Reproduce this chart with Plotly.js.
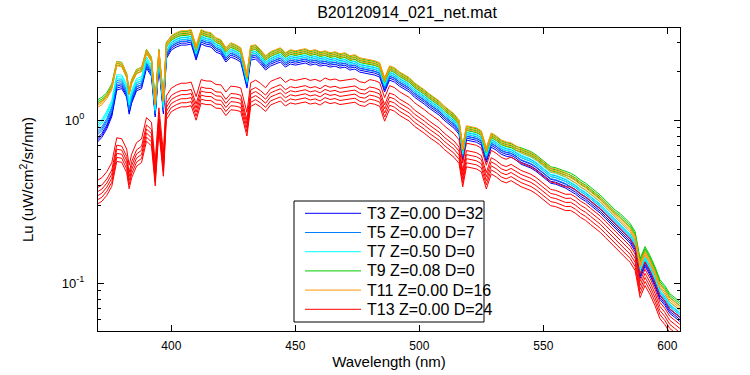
<!DOCTYPE html>
<html><head><meta charset="utf-8">
<script src="https://cdn.plot.ly/plotly-3.0.1.min.js"></script>
<style>html,body{margin:0;padding:0;background:#fff}#chart{width:750px;height:375px}</style>
</head><body><div id="chart"></div>
<script>
// Wavelength grid (nm)
const wavelength = [370,372,374,376,378,380,382,383,384,386,388,390,392,393.5,395,396.8,398,
400,402,404,406,408,410,412,414,416,418,420,422,424,426,428,430.5,
432,434,436,438,440,442,444,446,448,450,452,454,456,458,460,462,464,466,468,470,472,474,476,478,480,482,484,486,488,490,492,494,496,498,500,502,504,506,508,510,512,514,516,
517.5,519,521,523,525,527,529,531,533,535,537,539,541,543,545,547,549,551,553,555,557,559,561,563,565,567,569,571,573,575,577,579,581,583,585,587,589,591,593,595,597,599,601,603,605];

// log10 of Lu (uW/cm2/sr/nm), one array per station
const logLuT3 = [-0.125,-0.092,-0.040,0.035,0.198,0.207,0.154,0.050,0.117,0.194,0.206,0.332,0.283,0.033,0.347,0.052,0.390,
0.444,0.462,0.474,0.474,0.481,0.382,0.481,0.468,0.462,0.431,0.419,0.370,0.401,0.388,0.370,0.210,
0.382,0.388,0.358,0.321,0.345,0.358,0.370,0.339,0.358,0.351,0.358,0.364,0.351,0.358,0.345,0.351,0.339,0.345,0.333,0.339,0.321,0.327,0.308,0.302,0.296,0.290,0.278,0.186,0.259,0.247,0.222,0.204,0.186,0.155,0.136,0.112,0.087,0.063,0.044,0.013,-0.011,-0.036,-0.073,
-0.232,-0.109,-0.116,-0.122,-0.140,-0.245,-0.153,-0.171,-0.196,-0.208,-0.214,-0.232,
-0.257,-0.269,-0.281,-0.300,-0.324,-0.349,-0.374,-0.380,-0.392,-0.404,-0.423,-0.441,-0.466,-0.484,-0.509,-0.533,-0.558,-0.589,-0.620,-0.650,-0.681,-0.712,-0.742,-0.792,-0.958,-0.884,-0.939,-1.007,-1.087,-1.124,-1.173,-1.197,-1.222];

const logLuT5 = [-0.080,-0.052,0.000,0.070,0.233,0.237,0.179,0.075,0.142,0.219,0.231,0.352,0.303,0.053,0.367,0.072,0.410,
0.466,0.484,0.496,0.496,0.503,0.404,0.503,0.490,0.484,0.453,0.441,0.392,0.423,0.410,0.392,0.232,
0.404,0.410,0.380,0.343,0.367,0.380,0.392,0.361,0.380,0.373,0.380,0.386,0.373,0.380,0.367,0.373,0.361,0.367,0.355,0.361,0.343,0.349,0.330,0.324,0.318,0.312,0.300,0.208,0.281,0.269,0.244,0.226,0.208,0.177,0.158,0.134,0.109,0.085,0.066,0.035,0.011,-0.014,-0.051,
-0.210,-0.087,-0.094,-0.100,-0.118,-0.223,-0.131,-0.149,-0.174,-0.186,-0.192,-0.210,-0.229,-0.241,-0.253,-0.272,-0.296,-0.321,-0.346,-0.352,-0.364,-0.376,-0.395,-0.413,-0.438,-0.456,-0.481,-0.505,-0.530,-0.561,-0.592,-0.622,-0.653,-0.684,-0.714,-0.764,-0.930,-0.856,-0.911,-0.979,-1.059,-1.096,-1.145,-1.169,-1.194];

const logLuT7 = [-0.035,-0.007,0.045,0.110,0.268,0.267,0.209,0.105,0.172,0.244,0.256,0.377,0.328,0.073,0.387,0.092,0.430,
0.481,0.499,0.511,0.511,0.518,0.419,0.518,0.505,0.499,0.468,0.456,0.407,0.438,0.425,0.407,0.247,
0.419,0.425,0.395,0.358,0.382,0.395,0.407,0.376,0.395,0.388,0.395,0.401,0.388,0.395,0.382,0.388,0.376,0.382,0.370,0.376,0.358,0.364,0.345,0.339,0.333,0.327,0.315,0.223,0.296,0.284,0.259,0.241,0.223,0.192,0.173,0.149,0.124,0.100,0.081,0.050,0.026,0.001,-0.036,
-0.195,-0.072,-0.079,-0.085,-0.103,-0.208,-0.116,-0.134,-0.159,-0.171,-0.177,-0.195,-0.214,-0.226,-0.238,-0.257,-0.281,-0.306,-0.331,-0.337,-0.349,-0.361,-0.380,-0.398,-0.423,-0.441,-0.466,-0.490,-0.515,-0.546,-0.577,-0.607,-0.638,-0.669,-0.699,-0.749,-0.915,-0.841,-0.896,-0.964,-1.044,-1.081,-1.130,-1.154,-1.179];

const logLuT9 = [0.120,0.138,0.165,0.220,0.358,0.352,0.284,0.180,0.247,0.309,0.321,0.432,0.383,0.118,0.432,0.137,0.475,
0.511,0.529,0.541,0.541,0.548,0.449,0.548,0.535,0.529,0.498,0.486,0.437,0.468,0.455,0.437,0.277,
0.449,0.455,0.425,0.388,0.412,0.425,0.437,0.406,0.425,0.418,0.425,0.431,0.418,0.425,0.412,0.418,0.406,0.412,0.400,0.406,0.388,0.394,0.375,0.369,0.363,0.357,0.345,0.253,0.326,0.314,0.289,0.271,0.253,0.222,0.203,0.179,0.154,0.130,0.111,0.080,0.056,0.031,-0.006,
-0.165,-0.042,-0.049,-0.055,-0.073,-0.178,-0.086,-0.104,-0.129,-0.141,-0.147,-0.165,
-0.172,-0.184,-0.196,-0.215,-0.239,-0.264,-0.289,-0.295,-0.307,-0.319,
-0.328,-0.346,-0.371,-0.389,-0.414,-0.438,-0.463,-0.494,-0.525,-0.555,
-0.576,-0.607,-0.637,-0.687,-0.853,-0.779,-0.834,-0.902,-0.982,-1.019,-1.068,-1.092,-1.117];

const logLuT11 = [0.090,0.108,0.145,0.200,0.348,0.342,0.274,0.170,0.237,0.299,0.311,0.422,0.373,0.108,0.422,0.127,0.465,
0.508,0.526,0.538,0.538,0.545,0.446,0.545,0.532,0.526,0.495,0.483,0.434,0.465,0.452,0.434,0.274,
0.446,0.452,0.422,0.385,0.409,0.422,0.434,0.403,0.422,0.415,0.422,0.428,0.415,0.422,0.409,0.415,0.403,0.409,0.397,0.403,0.385,0.391,0.372,0.366,0.360,0.354,0.342,0.250,0.323,0.311,0.286,0.268,0.250,0.219,0.200,0.176,0.151,0.127,0.108,0.077,0.053,0.028,-0.009,
-0.168,-0.045,-0.052,-0.058,-0.076,-0.181,-0.089,-0.107,-0.132,-0.144,-0.150,-0.168,-0.187,-0.199,-0.211,-0.230,-0.254,-0.279,-0.304,-0.310,-0.322,-0.334,-0.353,-0.371,-0.396,-0.414,-0.439,-0.463,-0.488,-0.519,-0.550,-0.580,-0.611,-0.642,-0.672,-0.722,-0.888,-0.814,-0.869,-0.937,-1.017,-1.054,-1.103,-1.127,-1.152];

const logLuT13 = [-0.445,-0.427,-0.390,-0.335,-0.182,-0.188,-0.251,-0.350,-0.283,-0.211,-0.189,-0.058,-0.087,-0.332,0.002,-0.273,0.075,
0.123,0.141,0.153,0.153,0.160,0.071,0.175,0.167,0.166,0.145,0.143,0.099,0.135,0.132,0.124,-0.026,
0.156,0.172,0.152,0.125,0.164,0.177,0.189,0.158,0.177,0.170,0.177,0.183,0.170,0.177,0.164,0.185,0.173,0.179,0.167,0.173,0.175,0.181,0.162,0.156,0.175,0.169,0.157,0.065,0.138,0.126,0.101,0.083,0.065,0.034,0.015,-0.009,-0.034,-0.058,-0.077,-0.108,-0.132,-0.157,-0.194,
-0.338,-0.215,-0.222,-0.228,-0.246,-0.351,-0.259,-0.277,-0.302,-0.314,-0.300,-0.318,-0.337,-0.349,-0.361,-0.380,-0.404,-0.429,-0.454,-0.460,-0.472,-0.484,-0.483,-0.501,-0.526,-0.544,-0.569,-0.593,-0.618,-0.649,-0.680,-0.710,-0.741,-0.772,-0.802,-0.852,-1.018,-0.944,-0.999,-1.067,-1.147,-1.184,-1.233,-1.257,-1.282];

// repeated scans of each station: log10 offsets of each scan from the station level
const scanOffsetsTop = [-0.012, 0, 0.012];
const scanOffsetsT9 = [-0.02, -0.008, 0.004];
const scanOffsetsT13 = [-0.07, -0.045, -0.02, 0.005, 0.03, 0.075];

const seriesLabels = ['T3 Z=0.00 D=32','T5 Z=0.00 D=7','T7 Z=0.50 D=0','T9 Z=0.08 D=0','T11 Z=0.00 D=16','T13 Z=0.00 D=24'];
const seriesLogs = [logLuT3, logLuT5, logLuT7, logLuT9, logLuT11, logLuT13];
const seriesScans = [scanOffsetsTop, scanOffsetsTop, scanOffsetsTop, scanOffsetsT9, scanOffsetsTop, scanOffsetsT13];
const seriesColors = ['#0000ff','#0080ff','#00ffff','#00cc00','#ff9900','#ff0000'];

const yTickVals = [0.1, 1];
const yTickText = ['10<sup>-1</sup>', '10<sup>0</sup>'];
const yMinorVals = [0.06,0.07,0.08,0.09,0.2,0.3,0.4,0.5,0.6,0.7,0.8,0.9,2,3];
const xTickVals = [400,450,500,550,600];

const FONT = 'Liberation Sans, Arial, Helvetica, sans-serif';
const traces = [];
seriesLogs.forEach((logs, s) => {
  seriesScans[s].forEach((off) => {
    traces.push({
      type: 'scatter', mode: 'lines', x: wavelength,
      y: logs.map(v => Math.pow(10, v + off)),
      line: {color: seriesColors[s], width: 1},
      name: seriesLabels[s], showlegend: false, hoverinfo: 'skip'
    });
  });
});

// plot area in pixels
const L = 98, R = 680, T = 28, B = 331, W = 750, H = 375;
const px = x => (x - L) / (R - L);
const py = y => (B - y) / (B - T);

// legend box drawn as shapes + text annotations (matches the original legend geometry)
const shapes = [{type:'rect', xref:'paper', yref:'paper', x0:px(294), x1:px(484), y0:py(322), y1:py(201),
  line:{color:'#000', width:1}, fillcolor:'#fff', layer:'above'}];
const annotations = [];
seriesLabels.forEach((lab, i) => {
  const yc = 213.3 + i * 19.2;
  shapes.push({type:'line', xref:'paper', yref:'paper', x0:px(305), x1:px(361), y0:py(yc), y1:py(yc),
    line:{color:seriesColors[i], width:1}, layer:'above'});
  annotations.push({xref:'paper', yref:'paper', x:px(365), y:py(yc), xanchor:'left', yanchor:'middle',
    text:lab, showarrow:false, font:{family:FONT, size:16, color:'#000'}});
});

const layout = {
  width: W, height: H,
  margin: {l: L, r: W - R, t: T, b: H - B},
  paper_bgcolor: '#fff', plot_bgcolor: '#fff',
  font: {family: FONT, color: '#000'},
  showlegend: false,
  title: {text: 'B20120914_021_net.mat', font: {family: FONT, size: 16, color: '#000'},
          x: px(407), xref: 'paper', xanchor: 'center', y: 1 - 12/H, yref: 'container', yanchor: 'middle'},
  xaxis: {range: [370.44, 605.1], tickvals: xTickVals, ticks: 'inside', ticklen: 6, tickcolor: '#000',
          showline: true, mirror: 'ticks', linecolor: '#000', linewidth: 1, showgrid: false, zeroline: false,
          tickfont: {family: FONT, size: 12}, ticklabelstandoff: 4,
          title: {text: 'Wavelength (nm)', font: {family: FONT, size: 15}, standoff: 2}},
  yaxis: {type: 'log', range: [-1.293, 0.567], tickvals: yTickVals, ticktext: yTickText,
          ticks: 'inside', ticklen: 6, tickcolor: '#000', ticklabelposition: 'outside',
          minor: {tickvals: yMinorVals, ticks: 'inside', ticklen: 3, tickcolor: '#000'},
          showline: true, mirror: 'ticks', linecolor: '#000', linewidth: 1, showgrid: false, zeroline: false,
          tickfont: {family: FONT, size: 13}, ticklabelstandoff: 10,
          title: {text: 'Lu (uW/cm<sup>2</sup>/sr/nm)', font: {family: FONT, size: 15}, standoff: 24}},
  shapes: shapes,
  annotations: annotations
};

Plotly.newPlot('chart', traces, layout, {displayModeBar: false, staticPlot: true});
</script></body></html>
